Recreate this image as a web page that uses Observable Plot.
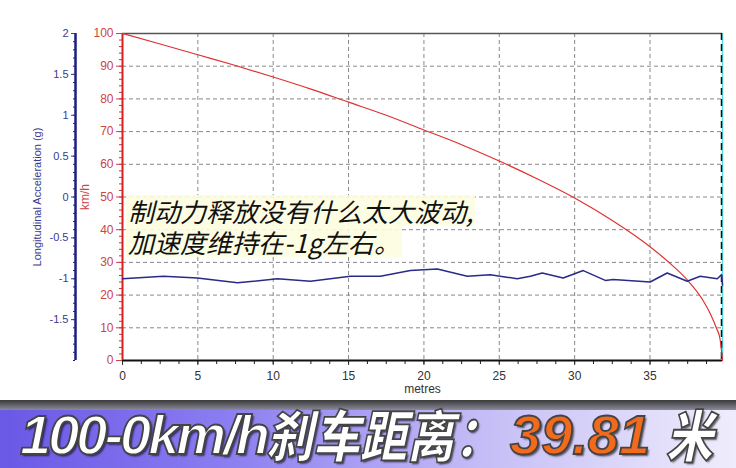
<!DOCTYPE html>
<html><head><meta charset="utf-8">
<script src="https://cdn.jsdelivr.net/npm/d3@7"></script>
<script src="https://cdn.jsdelivr.net/npm/@observablehq/plot@0.6"></script>
<style>
html,body{margin:0;padding:0;background:#fff;}
#wrap{position:relative;width:736px;height:468px;overflow:hidden;}
#p1,#p2{position:absolute;left:0;top:0;}
#note{position:absolute;left:126px;top:195px;font-family:"Noto Sans CJK SC";font-size:26px;line-height:31px;color:#111;font-style:italic;}
#note span{background:rgba(253,253,225,0.9);display:inline-block;padding:0 2px;}
#banner{position:absolute;left:0;top:400px;width:736px;height:68px;
 background:linear-gradient(to right,#6a58e6 0%,#8a7cf0 30%,#c4bcf6 65%,#efedfc 100%);}
#shadow{position:absolute;left:0;top:0;width:736px;height:10px;background:linear-gradient(to bottom,#3a3a3a,#8a8a9a);}
.bt{position:absolute;top:3px;white-space:nowrap;font-weight:900;font-style:italic;font-size:56px;line-height:64px;
 color:#fff;-webkit-text-stroke:1.8px #444;text-shadow:2px 2px 2px rgba(0,0,0,0.6);}
.lat{font-family:"Liberation Sans",Arial,sans-serif;letter-spacing:-3px;}
.cjk{font-family:"Noto Sans CJK SC";transform:scaleX(0.84);transform-origin:left;top:4px;line-height:58px;}
.num{color:#f26a1c;font-family:"Liberation Sans",Arial,sans-serif;}
</style></head>
<body><div id="wrap"><div id="p1"></div><div id="p2"></div>
<div id="note"><span>制动力释放没有什么太大波动,</span><br><span>加速度维持在-1g左右。</span></div>
<div id="banner"><div id="shadow"></div>
<span class="bt lat" style="left:20px">100-0km/h</span>
<span class="bt cjk" style="left:266px">刹车距离：</span>
<span class="bt num" style="left:510px">39.81</span>
<span class="bt cjk" style="left:666px">米</span>
</div>
</div>
<script>
// speed vs distance (km/h)
const distSpeed = [0,2.5,5,7.5,10,12.5,15,17.5,20,22.5,25,27.5,30,32.5,35,36.5,37.5,38.5,39,39.4,39.65,39.81];
const speed     = [100,96.8,93.5,90.2,86.7,83,79,75,70.5,66,61,55.6,49.7,42.8,34.8,29,24.5,18.5,14.3,10,6.5,0];
// longitudinal acceleration (g)
const distAcc = [0,2.72,4.97,7.63,10.28,12.47,13.79,15.12,17.11,19.1,20.89,22.88,24.4,26.19,27.06,27.85,29.24,30.57,32.03,32.56,35.01,36.14,37.47,38.33,39.46,39.75,39.81];
const accel   = [-1.0,-0.97,-0.99,-1.05,-1.0,-1.03,-1.0,-0.97,-0.97,-0.9,-0.88,-0.97,-0.95,-1.0,-0.97,-0.93,-0.99,-0.9,-1.02,-1.01,-1.04,-0.93,-1.03,-0.97,-1.0,-0.95,-1.08];
const xTicks = [0,5,10,15,20,25,30,35];
const speedTicks = [0,10,20,30,40,50,60,70,80,90,100];
const accTicks = [2,1.5,1,0.5,0,-0.5,-1,-1.5];
const distMax = 39.81;

const speedData = distSpeed.map((d,i)=>({d, v:speed[i]}));
const accData = distAcc.map((d,i)=>({d, a:accel[i]}));
const W=736,H=398,ML=122,MR=14,MT=33,MB=38;
const minorX = d3.range(0, distMax, 1.25);
const minorV = d3.range(0, 101, 2);
const minorA = d3.range(-20, 21).map(v=>v/10);
const font = {fontFamily:"Liberation Sans, Arial, sans-serif", fontSize:"12px", background:"transparent", overflow:"visible"};

const p1 = Plot.plot({
  width:W, height:H, marginLeft:ML, marginRight:MR, marginTop:MT, marginBottom:MB,
  style:font,
  x:{domain:[0,distMax], label:null},
  y:{domain:[0,100], label:null},
  marks:[
    Plot.gridY(speedTicks.filter(v=>v>0&&v<100), {stroke:"#888", strokeOpacity:1, strokeDasharray:"4,3"}),
    Plot.gridX(xTicks.filter(v=>v>0), {stroke:"#888", strokeOpacity:1, strokeDasharray:"4,3"}),
    Plot.ruleY([100], {stroke:"#555", strokeWidth:1.5}),
    Plot.axisX({ticks:minorX, tickSize:4, text:null, label:null, stroke:"#222"}),
    Plot.axisX({ticks:xTicks, tickSize:5, tickPadding:6, color:"#333", label:"metres", labelAnchor:"center", labelArrow:"none", labelOffset:32}),
    Plot.axisY({ticks:minorV, tickSize:3, text:null, label:null, stroke:"#d03030"}),
    Plot.axisY({ticks:speedTicks, tickSize:6, tickPadding:3, color:"#cc4444", label:"km/h", labelAnchor:"center", labelArrow:"none", labelOffset:42}),
    Plot.ruleY([0], {stroke:"#111", strokeWidth:2}),
    Plot.ruleX([0], {stroke:"#d42020", strokeWidth:2}),
    Plot.ruleX([distMax], {stroke:"#50e0e8", strokeWidth:1.5}),
    Plot.ruleX([distMax], {stroke:"#111", strokeWidth:1.5, strokeDasharray:"7,4", dx:-1}),
    Plot.line(speedData, {x:"d", y:"v", stroke:"#e03030", strokeWidth:1.2, curve:"monotone-x"})
  ]
});
document.getElementById("p1").appendChild(p1);

const p2 = Plot.plot({
  width:W, height:H, marginLeft:75, marginRight:MR, marginTop:MT, marginBottom:MB,
  style:font,
  x:{domain:[0,distMax], range:[ML, W-MR], axis:null, label:null},
  y:{domain:[-2,2], label:null},
  marks:[
    Plot.ruleX([0], {stroke:"#1e1e80", strokeWidth:2.5, dx:-(ML-75)}),
    Plot.axisY({ticks:minorA, tickSize:2, text:null, label:null, stroke:"#1e1e80"}),
    Plot.axisY({ticks:accTicks, tickSize:4, tickPadding:3, color:"#3a3a90", tickFormat:d=>String(d), label:"Longitudinal Acceleration (g)", labelAnchor:"center", labelArrow:"none", labelOffset:42, fontSize:11}),
    Plot.line(accData, {x:"d", y:"a", stroke:"#2a2a88", strokeWidth:1.5})
  ]
});
document.getElementById("p2").appendChild(p2);
</script>
</body></html>
